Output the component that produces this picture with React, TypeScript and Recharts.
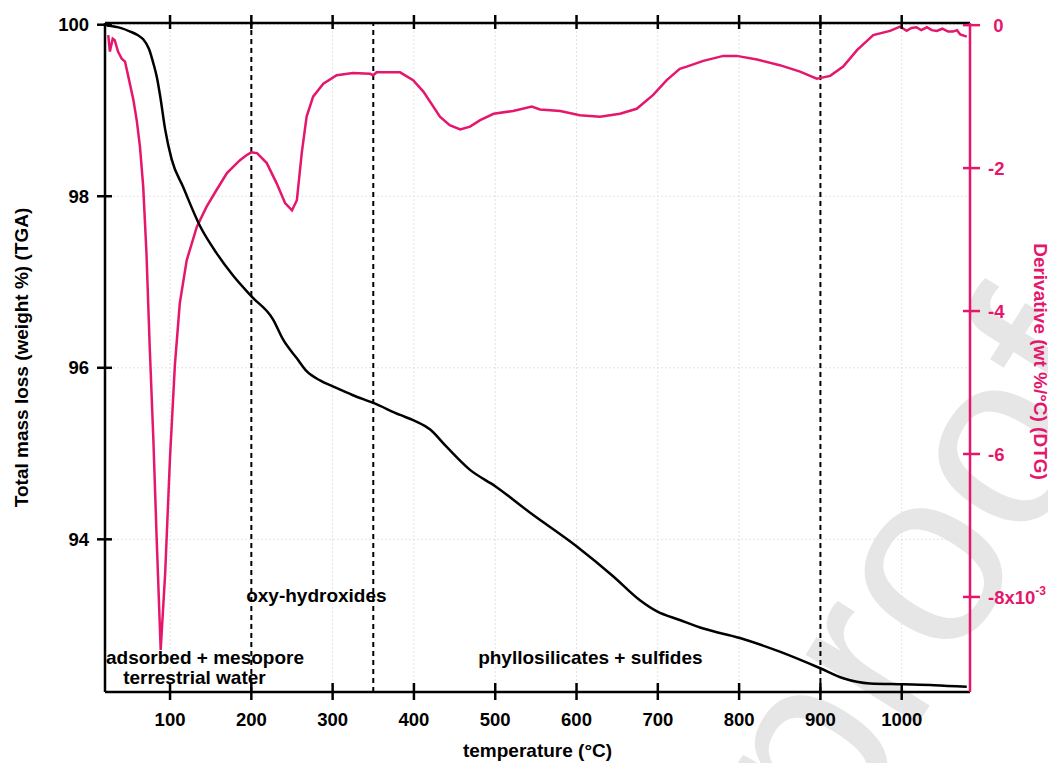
import React from 'react';
import {
  ComposedChart,
  Line,
  XAxis,
  YAxis,
  CartesianGrid,
  ReferenceLine,
  ReferenceDot,
} from 'recharts';

// ---------- data ----------
const tgaTemp = [22, 40, 51, 60, 67, 74, 79.5, 84, 88, 94, 102, 116, 137, 157, 178, 200.5, 227, 239, 256, 268, 285, 301, 325, 350, 383, 399, 420, 440, 469, 500, 543, 600, 645, 678, 699, 727, 756, 801, 850, 899, 928, 961, 1002, 1040, 1080];
const tgaMass = [99.99, 99.96, 99.92, 99.88, 99.83, 99.72, 99.55, 99.38, 99.16, 98.78, 98.43, 98.11, 97.65, 97.34, 97.07, 96.83, 96.56, 96.33, 96.11, 95.96, 95.85, 95.78, 95.68, 95.59, 95.45, 95.39, 95.28, 95.08, 94.81, 94.62, 94.31, 93.92, 93.57, 93.29, 93.16, 93.06, 92.96, 92.85, 92.69, 92.5, 92.38, 92.32, 92.31, 92.3, 92.28];

const dtgTemp = [24, 26, 29.5, 32, 36, 40.6, 44.6, 48.7, 55, 59, 63, 67, 71, 75, 79.5, 83.6, 88.5, 94, 100, 106, 112, 120.5, 133, 145, 157, 170, 186, 194, 200, 207, 219, 231, 241.5, 250, 256, 262, 268, 276, 288.5, 305, 325, 346, 350, 354, 383, 399, 411.6, 432, 444, 457, 469, 481.5, 498, 522, 545, 555, 580, 604, 629, 653.5, 674, 694, 711, 727, 735.5, 756, 780.5, 797, 822, 850, 875, 895.5, 912, 928, 945, 965, 985.6, 998, 1006, 1012, 1018, 1024, 1031, 1037, 1043, 1050, 1057, 1063, 1068, 1072, 1080];
const dtgDeriv = [-0.14, -0.37, -0.19, -0.21, -0.37, -0.47, -0.51, -0.72, -1.05, -1.33, -1.7, -2.26, -3.19, -4.5, -5.8, -7.2, -8.74, -7.67, -6.04, -4.75, -3.89, -3.29, -2.82, -2.54, -2.31, -2.07, -1.89, -1.82, -1.78, -1.79, -1.93, -2.21, -2.49, -2.59, -2.45, -1.79, -1.28, -1.0, -0.82, -0.7, -0.67, -0.68, -0.7, -0.66, -0.66, -0.77, -0.93, -1.28, -1.4, -1.46, -1.42, -1.33, -1.24, -1.2, -1.14, -1.18, -1.2, -1.26, -1.28, -1.24, -1.17, -0.98, -0.77, -0.61, -0.58, -0.5, -0.43, -0.43, -0.48, -0.56, -0.65, -0.75, -0.71, -0.58, -0.35, -0.14, -0.08, -0.02, -0.08, -0.04, -0.03, -0.07, -0.03, -0.07, -0.08, -0.05, -0.09, -0.09, -0.07, -0.13, -0.16];

const xTicks = [100, 200, 300, 400, 500, 600, 700, 800, 900, 1000];
const leftTicks = [94, 96, 98, 100];
const rightTicks = [-8, -6, -4, -2, 0];
const boundaryTemps = [200, 350, 900];

const annoText = ['oxy-hydroxides', 'adsorbed + mesopore', 'terrestrial water', 'phyllosilicates + sulfides'];
const annoTemp = [280, 143, 130, 617];
const annoMass = [93.35, 92.63, 92.39, 92.62];

const xDomain = [20, 1084];
const leftDomain = [92.22, 100.02];
const rightDomain = [-9.33, 0.03];

// ---------- derived tables ----------
const tgaData = tgaTemp.map((t, i) => ({ t, v: tgaMass[i] }));
const dtgData = dtgTemp.map((t, i) => ({ t, d: dtgDeriv[i] }));

const FONT = '"Liberation Sans", Arial, Helvetica, sans-serif';
const PINK = '#e5176c';
const TICK_FS = 18.5;
const TITLE_FS = 19;
const W = 1048;
const H = 755;

const LeftTick = (props: any) => {
  const { x, y, payload } = props;
  return (
    <g>
      <line x1={x + 8} x2={x + 23} y1={y} y2={y} stroke="#000" strokeWidth={2.5} />
      <text x={x} y={y} dy={6.6} textAnchor="end" fontFamily={FONT} fontWeight="bold" fontSize={TICK_FS} fill="#000">
        {payload.value}
      </text>
    </g>
  );
};

const BottomTick = (props: any) => {
  const { x, y, payload } = props;
  return (
    <g>
      <line x1={x} x2={x} y1={y - 21} y2={y - 4} stroke="#000" strokeWidth={2.5} />
      <text x={x} y={y + 21.5} textAnchor="middle" fontFamily={FONT} fontWeight="bold" fontSize={TICK_FS} fill="#000">
        {payload.value}
      </text>
    </g>
  );
};

const TopTick = (props: any) => {
  const { x, y } = props;
  return <line x1={x} x2={x} y1={y} y2={y + 14} stroke="#000" strokeWidth={2.5} />;
};

const RightTick = (props: any) => {
  const { x, y, payload } = props;
  const v = payload.value;
  const isZero = v === 0;
  return (
    <g>
      <line x1={x - 25} x2={x - 8} y1={y} y2={y} stroke={PINK} strokeWidth={2.5} />
      <text
        x={isZero ? x + 15.5 : x}
        y={y}
        dy={6.6}
        textAnchor={isZero ? 'end' : 'start'}
        fontFamily={FONT}
        fontWeight="bold"
        fontSize={TICK_FS}
        fill={PINK}
      >
        {v === -8 ? (
          <>
            -8x10
            <tspan fontSize={12} dy={-9}>-3</tspan>
          </>
        ) : (
          v
        )}
      </text>
    </g>
  );
};

const LeftTitle = (props: any) => {
  const vb = props.viewBox;
  const cx = vb.x + 13;
  const cy = vb.y + vb.height / 2;
  return (
    <text x={cx} y={cy} transform={`rotate(-90 ${cx} ${cy})`} textAnchor="middle" dominantBaseline="central" fontFamily={FONT} fontWeight="bold" fontSize={TITLE_FS} fill="#000">
      Total mass loss (weight %) (TGA)
    </text>
  );
};

const RightTitle = (props: any) => {
  const vb = props.viewBox;
  const cx = vb.x + 70;
  const cy = vb.y + vb.height / 2 + 4;
  return (
    <text x={cx} y={cy} transform={`rotate(90 ${cx} ${cy})`} textAnchor="middle" dominantBaseline="central" fontFamily={FONT} fontWeight="bold" fontSize={TITLE_FS} fill={PINK}>
      Derivative (wt %/°C) (DTG)
    </text>
  );
};

const BottomTitle = (props: any) => {
  const vb = props.viewBox;
  const cx = vb.x + vb.width / 2;
  const cy = vb.y + 58.7;
  return (
    <text x={cx} y={cy} textAnchor="middle" dominantBaseline="central" fontFamily={FONT} fontWeight="bold" fontSize={TITLE_FS} fill="#000">
      temperature (°C)
    </text>
  );
};

export default function App() {
  return (
    <div style={{ position: 'relative', width: W, height: H }}>
      <svg width={W} height={H} style={{ position: 'absolute', left: 0, top: 0 }}>
        <text
          x={978}
          y={607}
          transform="rotate(-58 978 607)"
          textAnchor="middle"
          fontFamily={FONT}
          fontSize={250}
          fill="#e6e6e6"
        >
          proof
        </text>
      </svg>
      <div style={{ position: 'absolute', left: 0, top: 0 }}>
        <ComposedChart width={W} height={H} margin={{ top: 0, right: 0, bottom: 0, left: 0 }}>
          <CartesianGrid
            xAxisId="bottom"
            yAxisId="left"
            stroke="#e2e2e2"
            strokeDasharray="2 2"
            strokeWidth={1}
          />
          <XAxis
            xAxisId="bottom"
            type="number"
            dataKey="t"
            domain={xDomain}
            ticks={xTicks}
            allowDataOverflow
            height={71}
            tickSize={8}
            tickMargin={4}
            tickLine={false}
            tick={<BottomTick />}
            axisLine={{ stroke: '#000', strokeWidth: 2.5 }}
            label={<BottomTitle />}
          />
          <XAxis
            xAxisId="top"
            orientation="top"
            type="number"
            dataKey="t"
            domain={xDomain}
            ticks={xTicks}
            allowDataOverflow
            height={15}
            tickSize={8}
            tickMargin={0}
            tickLine={false}
            tick={<TopTick />}
            axisLine={{ stroke: '#000', strokeWidth: 2.5 }}
          />
          <YAxis
            yAxisId="left"
            type="number"
            domain={leftDomain}
            ticks={leftTicks}
            allowDataOverflow
            width={97}
            tickSize={8}
            tickMargin={8}
            tickLine={false}
            tick={<LeftTick />}
            axisLine={{ stroke: '#000', strokeWidth: 2.5 }}
            label={<LeftTitle />}
          />
          <YAxis
            yAxisId="right"
            orientation="right"
            type="number"
            domain={rightDomain}
            ticks={rightTicks}
            allowDataOverflow
            width={86}
            tickSize={8}
            tickMargin={10}
            tickLine={false}
            tick={<RightTick />}
            axisLine={{ stroke: PINK, strokeWidth: 2.5 }}
            label={<RightTitle />}
          />
          {boundaryTemps.map((t) => (
            <ReferenceLine
              key={t}
              xAxisId="bottom"
              yAxisId="left"
              x={t}
              stroke="#000"
              strokeWidth={2}
              strokeDasharray="5 4"
            />
          ))}
          <Line
            xAxisId="bottom"
            yAxisId="right"
            data={dtgData}
            dataKey="d"
            type="linear"
            stroke={PINK}
            strokeWidth={2.5}
            dot={false}
            activeDot={false}
            isAnimationActive={false}
          />
          <Line
            xAxisId="bottom"
            yAxisId="left"
            data={tgaData}
            dataKey="v"
            type="monotone"
            stroke="#000"
            strokeWidth={2.5}
            dot={false}
            activeDot={false}
            isAnimationActive={false}
          />
          {annoText.map((txt, i) => (
            <ReferenceDot
              key={txt}
              xAxisId="bottom"
              yAxisId="left"
              x={annoTemp[i]}
              y={annoMass[i]}
              r={0.1}
              fill="none"
              stroke="none"
              label={{
                value: txt,
                position: 'center',
                fill: '#000',
                fontSize: TITLE_FS,
                fontWeight: 'bold',
                fontFamily: FONT,
              }}
            />
          ))}
        </ComposedChart>
      </div>
    </div>
  );
}
